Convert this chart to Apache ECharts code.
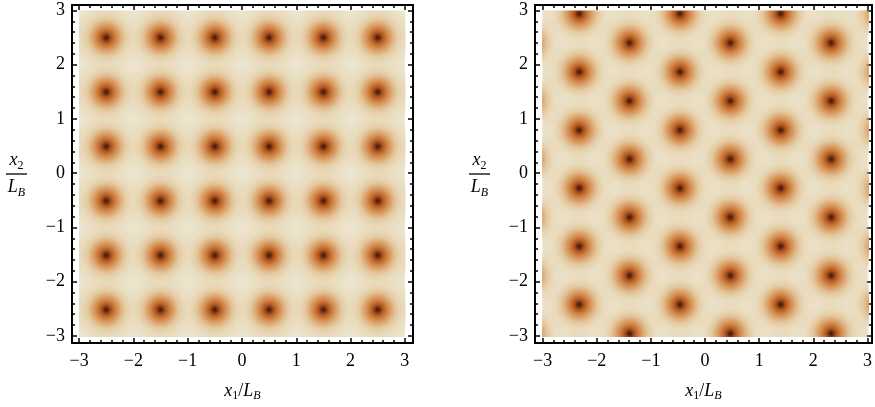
<!DOCTYPE html>
<html><head><meta charset="utf-8">
<script src="https://cdn.jsdelivr.net/npm/echarts@6/dist/echarts.min.js"></script>
<style>html,body{margin:0;padding:0;background:#fff}#c{width:875px;height:407px}</style>
</head><body><div id="c"></div>
<script>
// ---- data ----
const majorTicks = [-3, -2, -1, 0, 1, 2, 3];
const minorTicks = [-2.8, -2.6, -2.4, -2.2, -1.8, -1.6, -1.4, -1.2, -0.8, -0.6, -0.4, -0.2,
                    0.2, 0.4, 0.6, 0.8, 1.2, 1.4, 1.6, 1.8, 2.2, 2.4, 2.6, 2.8];
// square lattice (left): vortex columns / rows (outer ring lies just outside the view)
const squareX = [-3.5, -2.5, -1.5, -0.5, 0.5, 1.5, 2.5, 3.5];
const squareY = [-3.5, -2.5, -1.5, -0.5, 0.5, 1.5, 2.5, 3.5];
// triangular lattice (right): row heights, which column set each row uses, and the two column sets
const triRowY = [3.475, 2.94, 2.405, 1.871, 1.336, 0.802, 0.267, -0.267, -0.802, -1.336, -1.871, -2.405, -2.94, -3.475];
const triRowSet = ['B', 'A', 'B', 'A', 'B', 'A', 'B', 'A', 'B', 'A', 'B', 'A', 'B', 'A'];
const triColsA = [-2.325, -0.465, 1.395, 3.255];
const triColsB = [-3.255, -1.395, 0.465, 2.325];

// ---- build points from the arrays ----
const squarePts = [];
squareY.forEach(y => squareX.forEach(x => squarePts.push([x, y])));
const triPts = [];
triRowY.forEach((y, i) => (triRowSet[i] === 'A' ? triColsA : triColsB).forEach(x => triPts.push([x, y])));

// ---- styling / layout ----
const serif = 'Liberation Serif';
const BG = '#ECE4CE';
function fmt(v) { return v < 0 ? '\u2212' + Math.abs(v) : String(v); }
const vortexColor = {
  type: 'radial', x: 0.5, y: 0.5, r: 0.5,
  colorStops: [
    { offset: 0, color: '#3e1808' },
    { offset: 0.05, color: '#62290f' },
    { offset: 0.13, color: '#a9521c' },
    { offset: 0.25, color: 'rgba(204,120,55,0.95)' },
    { offset: 0.38, color: 'rgba(214,148,85,0.78)' },
    { offset: 0.52, color: 'rgba(221,176,118,0.52)' },
    { offset: 0.72, color: 'rgba(226,198,148,0.24)' },
    { offset: 1, color: 'rgba(226,206,160,0)' }
  ]
};
const R = 36;
const subRich = {
  i: { fontFamily: serif, fontStyle: 'italic', fontSize: 18, lineHeight: 22, color: '#000', align: 'center' },
  n: { fontFamily: serif, fontSize: 18, lineHeight: 22, color: '#000', align: 'center' },
  s: { fontFamily: serif, fontStyle: 'italic', fontSize: 12, verticalAlign: 'bottom', color: '#000', align: 'center' },
  s1: { fontFamily: serif, fontSize: 12, verticalAlign: 'bottom', color: '#000', align: 'center' },
  bar: { width: 21, height: 1.3, lineHeight: 5, fontSize: 1, backgroundColor: '#000', align: 'center' }
};
const xName = '{i|x}{s1|1}{n|/}{i|L}{s|B}';
const yName = '{i|x}{s1|2}\n{bar| }\n{i|L}{s|B}';

const plots = [
  { outer: { left: 72, top: 5, width: 341, height: 339 }, xr: [-3.13, 3.15], yr: [-3.13, 3.10], pts: squarePts },
  { outer: { left: 535, top: 5, width: 337, height: 339 }, xr: [-3.14, 3.08], yr: [-3.13, 3.10], pts: triPts }
];

const grid = [], xAxis = [], yAxis = [], series = [];
function frameAxis(gi, pos, r, major, labels, name) {
  const a = {
    type: 'value', gridIndex: gi, position: pos, min: r[0], max: r[1],
    axisLine: { show: major, onZero: false, lineStyle: { color: '#000', width: 2 } },
    axisTick: { show: true, inside: true, customValues: major ? majorTicks : minorTicks,
                length: major ? 5 : 3, lineStyle: { color: '#000', width: 1.5 } },
    axisLabel: { show: labels, customValues: majorTicks, formatter: fmt, color: '#000',
                 fontFamily: serif, fontSize: 18, margin: pos === 'bottom' ? 9 : 7 },
    splitLine: { show: false }, silent: true
  };
  if (name) Object.assign(a, name);
  return a;
}
plots.forEach((p, k) => {
  const o = p.outer;
  const gOuter = grid.length;
  grid.push({ left: o.left, top: o.top, width: o.width, height: o.height, show: false });
  const ix = o.left + (-3 - p.xr[0]) / (p.xr[1] - p.xr[0]) * o.width;
  const iw = 6 / (p.xr[1] - p.xr[0]) * o.width;
  const iy = o.top + (p.yr[1] - 3) / (p.yr[1] - p.yr[0]) * o.height;
  const ih = 6 / (p.yr[1] - p.yr[0]) * o.height;
  const gInner = grid.length;
  grid.push({ left: ix, top: iy, width: iw, height: ih, show: true, backgroundColor: BG, borderWidth: 0 });

  xAxis.push(frameAxis(gOuter, 'bottom', p.xr, true, true,
    { name: xName, nameLocation: 'middle', nameGap: 37, nameTextStyle: { rich: subRich, verticalAlign: 'top' } }));
  xAxis.push(frameAxis(gOuter, 'bottom', p.xr, false, false));
  xAxis.push(frameAxis(gOuter, 'top', p.xr, true, false));
  xAxis.push(frameAxis(gOuter, 'top', p.xr, false, false));
  const xi = xAxis.length;
  xAxis.push({ type: 'value', gridIndex: gInner, min: -3, max: 3, show: false });

  yAxis.push(frameAxis(gOuter, 'left', p.yr, true, true,
    { name: yName, nameLocation: 'middle', nameGap: 45, nameRotate: 0, nameTextStyle: { rich: subRich, align: 'right', verticalAlign: 'middle' } }));
  yAxis.push(frameAxis(gOuter, 'left', p.yr, false, false));
  yAxis.push(frameAxis(gOuter, 'right', p.yr, true, false));
  yAxis.push(frameAxis(gOuter, 'right', p.yr, false, false));
  const yi = yAxis.length;
  yAxis.push({ type: 'value', gridIndex: gInner, min: -3, max: 3, show: false });

  series.push({
    type: 'custom', xAxisIndex: xi, yAxisIndex: yi, data: p.pts, clip: true, silent: true,
    encode: { x: 0, y: 1 },
    renderItem: function (params, api) {
      const c = api.coord([api.value(0), api.value(1)]);
      return { type: 'circle', shape: { cx: c[0], cy: c[1], r: R }, style: { fill: vortexColor } };
    }
  });
});

const chart = echarts.init(document.getElementById('c'), null, { renderer: 'canvas' });
chart.setOption({ animation: false, backgroundColor: '#fff', grid, xAxis, yAxis, series });
</script>
</body></html>
